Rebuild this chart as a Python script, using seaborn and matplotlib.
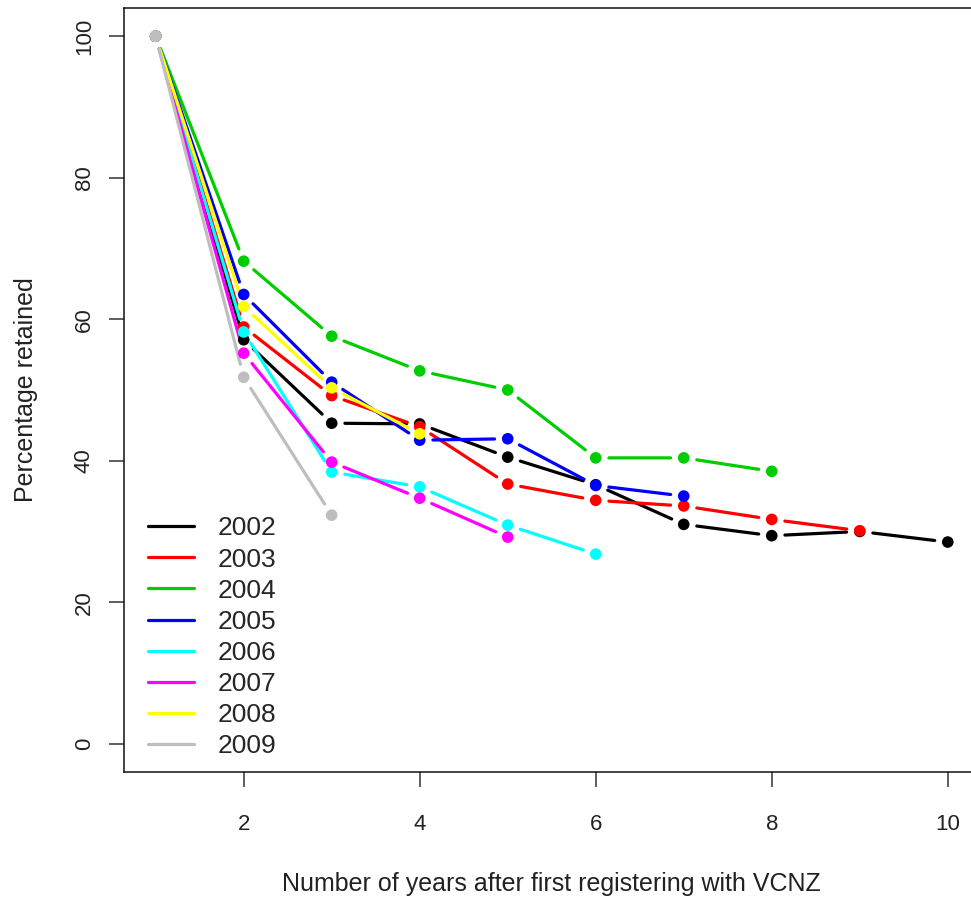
import pandas as pd
import matplotlib
matplotlib.use("Agg")
import matplotlib.pyplot as plt
import seaborn as sns
from matplotlib.lines import Line2D

######################################################################
# Data
years = ["2002", "2003", "2004", "2005", "2006", "2007", "2008", "2009"]
colors = ["#000000", "#FF0000", "#00CD00", "#0000FF",
          "#00FFFF", "#FF00FF", "#FFFF00", "#BEBEBE"]

r2002 = [100, 57.1, 45.3, 45.2, 40.5, 36.6, 31.0, 29.4, 30.0, 28.5]
r2003 = [100, 58.9, 49.2, 44.8, 36.7, 34.4, 33.6, 31.7, 30.1]
r2004 = [100, 68.2, 57.6, 52.7, 50.0, 40.4, 40.4, 38.5]
r2005 = [100, 63.5, 51.1, 42.9, 43.1, 36.5, 35.0]
r2006 = [100, 58.2, 38.4, 36.3, 30.9, 26.8]
r2007 = [100, 55.2, 39.8, 34.7, 29.2]
r2008 = [100, 61.8, 50.3, 43.8]
r2009 = [100, 51.8, 32.3]
series = [r2002, r2003, r2004, r2005, r2006, r2007, r2008, r2009]

rows = []
for yr, vals in zip(years, series):
    for i, v in enumerate(vals):
        rows.append({"cohort": yr, "year": i + 1, "pct": v})
df = pd.DataFrame(rows)

######################################################################
# Plot
sns.set_style("white")
plt.rcParams['font.family'] = ['Liberation Sans', 'DejaVu Sans']

fig = plt.figure(figsize=(9.71, 9.01), dpi=100)
ax = fig.add_axes([0.1277, 0.1432, 0.881, 0.848])

# lines with gaps round the points (like R type="b")
for yr, col, vals in zip(years, colors, series):
    for i in range(len(vals) - 1):
        ax.annotate("", xy=(i + 2, vals[i + 1]), xytext=(i + 1, vals[i]),
                    arrowprops=dict(arrowstyle="-", color=col, lw=2.3,
                                    shrinkA=9.5, shrinkB=9.5), zorder=2)
    sub = df[df["cohort"] == yr]
    sns.scatterplot(data=sub, x="year", y="pct", color=col, s=70,
                    edgecolor="none", ax=ax, zorder=3, legend=False)

ax.set_xlim(0.64, 10.36)
ax.set_ylim(-4, 104)
ax.set_xticks([2, 4, 6, 8, 10])
ax.set_yticks([0, 20, 40, 60, 80, 100])
ax.tick_params(axis="both", which="major", bottom=True, left=True,
               direction="out", length=11, width=1.1, color="#333333",
               labelsize=16, labelcolor="#222222")
ax.tick_params(axis="x", pad=19)
ax.tick_params(axis="y", labelrotation=90, pad=10)
for lab in ax.get_yticklabels():
    lab.set_va("center")
for s in ax.spines.values():
    s.set_color("#111111")
    s.set_linewidth(1.1)

ax.set_xlabel("Number of years after first registering with VCNZ",
              fontsize=18, color="#222222", labelpad=27)
ax.set_ylabel("Percentage retained", fontsize=18, color="#222222", labelpad=26)

handles = [Line2D([0], [0], color=c, lw=2.3) for c in colors]
ax.legend(handles, years, loc="lower left", bbox_to_anchor=(0.005, -0.008),
          frameon=False, fontsize=19, handlelength=1.75, handletextpad=0.87,
          labelspacing=0.27, borderaxespad=0.35, borderpad=0.4)

fig.savefig("out.png", dpi=100)
